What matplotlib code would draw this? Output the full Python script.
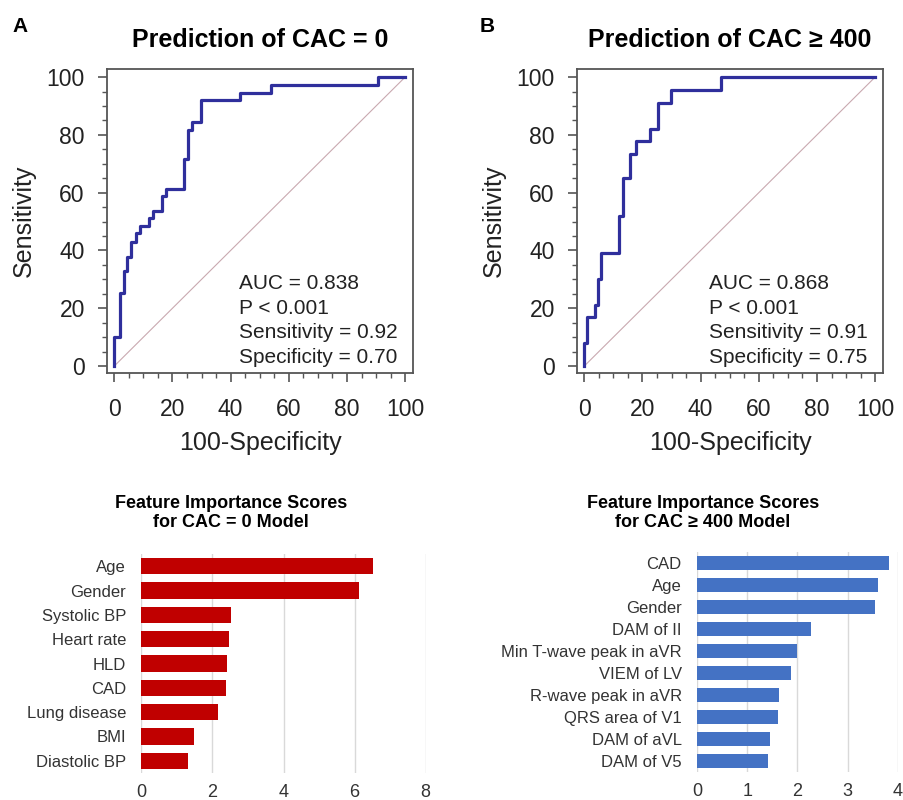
import matplotlib
matplotlib.use("Agg")
from matplotlib import pyplot as plt
from matplotlib.ticker import MultipleLocator

plt.rcParams['font.family'] = ['Liberation Sans', 'DejaVu Sans']

# ROC curve corners (100-specificity, sensitivity)
fpr_a = [0, 1.8, 3.2, 4.35, 5.8, 7.4, 8.9, 12.1, 13.3, 16.4, 17.9, 24.1, 25.3, 26.7, 29.8, 43.3, 53.8, 90.8, 100]
tpr_a = [0, 10.2, 25.4, 33.0, 37.9, 43.1, 46.0, 48.5, 51.2, 53.8, 58.7, 61.3, 71.6, 81.8, 84.4, 91.9, 94.6, 97.3, 100]
fpr_b = [0, 1.1, 3.8, 4.7, 5.8, 12.1, 13.2, 15.6, 17.9, 22.7, 25.2, 29.8, 47.0, 100]
tpr_b = [0, 8.1, 16.9, 21.1, 30.0, 39.0, 52.0, 65.0, 73.4, 77.9, 82.1, 91.0, 95.4, 100]

stats_a = ["AUC = 0.838", "P < 0.001", "Sensitivity = 0.92", "Specificity = 0.70"]
stats_b = ["AUC = 0.868", "P < 0.001", "Sensitivity = 0.91", "Specificity = 0.75"]

# feature importance
feat_a = ["Age", "Gender", "Systolic BP", "Heart rate", "HLD", "CAD", "Lung disease", "BMI", "Diastolic BP"]
score_a = [6.53, 6.13, 2.51, 2.46, 2.42, 2.38, 2.17, 1.48, 1.32]
feat_b = ["CAD", "Age", "Gender", "DAM of II", "Min T-wave peak in aVR", "VIEM of LV",
          "R-wave peak in aVR", "QRS area of V1", "DAM of aVL", "DAM of V5"]
score_b = [3.82, 3.61, 3.54, 2.27, 2.00, 1.88, 1.63, 1.61, 1.45, 1.42]

fig = plt.figure(figsize=(9.04, 8.0), dpi=100)
W, H = 904.0, 800.0


def roc_panel(rect, fpr, tpr, title, stats, letter, letter_x):
    ax = fig.add_axes(rect)
    ax.plot([0, 100], [0, 100], color="#c9a9b0", lw=0.8)
    ax.step(fpr, tpr, where="pre", color="#2f2f9c", lw=2.3)
    ax.set_xlim(-2.5, 102.7)
    ax.set_ylim(-2.4, 102.8)
    ax.xaxis.set_major_locator(MultipleLocator(20))
    ax.yaxis.set_major_locator(MultipleLocator(20))
    ax.xaxis.set_minor_locator(MultipleLocator(5))
    ax.yaxis.set_minor_locator(MultipleLocator(5))
    ax.tick_params(which="major", length=6.5, width=1.2, color="#555555", labelsize=16.5,
                   labelcolor="#222222")
    ax.tick_params(axis="x", which="major", pad=11.5)
    ax.tick_params(axis="y", which="major", pad=9.5)
    ax.tick_params(which="minor", length=3.5, width=1.0, color="#555555")
    for s in ax.spines.values():
        s.set_color("#555555")
        s.set_linewidth(1.3)
    ax.set_xlabel("100-Specificity", fontsize=18, color="#222222", labelpad=7)
    ax.set_ylabel("Sensitivity", fontsize=18, color="#222222", labelpad=8)
    ax.set_title(title, fontsize=18, fontweight="bold", pad=16)
    for i, s in enumerate(stats):
        ax.text(43, 28.5 - i * 8.5, s, fontsize=15, color="#222222", va="center")
    fig.text(letter_x, 1 - 26 / H, letter, fontsize=15, fontweight="bold", va="center")
    return ax


roc_panel([107 / W, 1 - 373 / H, 306 / W, 304 / H], fpr_a, tpr_a,
          "Prediction of CAC = 0", stats_a, "A", 12 / W)
roc_panel([577 / W, 1 - 373 / H, 306 / W, 304 / H], fpr_b, tpr_b,
          "Prediction of CAC \u2265 400", stats_b, "B", 480 / W)


def bar_panel(rect, feats, scores, color, xmax, step, height, title, title_x):
    ax = fig.add_axes(rect)
    y = list(range(len(feats)))
    ax.barh(y, scores, height=height, color=color, zorder=2)
    ax.set_ylim(len(feats) - 0.5, -0.5)
    ax.set_xlim(0, xmax)
    ax.set_yticks(y)
    ax.set_yticklabels(feats)
    ax.xaxis.set_major_locator(MultipleLocator(step))
    ax.grid(axis="x", color="#d9d9d9", lw=1.0, zorder=0)
    for s in ax.spines.values():
        s.set_visible(False)
    ax.tick_params(axis="both", length=0, labelcolor="#333333")
    ax.tick_params(axis="y", pad=11, labelsize=12)
    ax.tick_params(axis="x", pad=8, labelsize=13)
    fig.text(title_x, 1 - 513 / H, title, fontsize=13, fontweight="bold", ha="center",
             va="center", linespacing=1.15)
    return ax


bar_panel([141.3 / W, 1 - 773 / H, 284.4 / W, 219 / H], feat_a, score_a, "#c00000", 8, 2, 0.68,
          "Feature Importance Scores\nfor CAC = 0 Model", 231 / W)
bar_panel([697 / W, 1 - 772 / H, 200.7 / W, 220 / H], feat_b, score_b, "#4472c4", 4, 1, 0.6,
          "Feature Importance Scores\nfor CAC \u2265 400 Model", 703 / W)

fig.savefig("out.png", dpi=100)
